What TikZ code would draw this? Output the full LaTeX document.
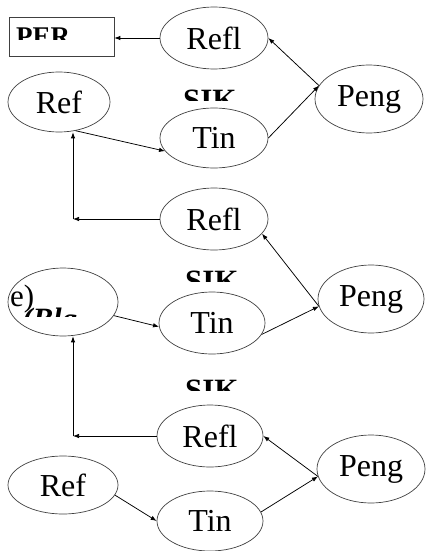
\documentclass[tikz,border=0pt]{standalone}
\usepackage{fontspec}
\setmainfont{Liberation Serif}
\usetikzlibrary{shapes.geometric,arrows.meta}
\begin{document}
\begin{tikzpicture}[x=1pt,y=-1pt,
  ell/.style={ellipse,draw=black!75,line width=0.7pt,inner sep=0pt,font=\fontsize{32}{34}\selectfont},
  arr/.style={-{Latex[length=6pt,width=4.5pt]},line width=0.75pt,black},
  clipt/.style={inner sep=0pt,anchor=base west,font=\fontsize{31}{33}\selectfont\bfseries}]
\useasboundingbox (0,0) rectangle (426,551);
% top group
\node[draw=black!75,line width=0.7pt,minimum width=105pt,minimum height=39pt,inner sep=0pt] (per) at (61.5,36.5) {};
\begin{scope}
\clip (10,18) rectangle (113,40);
\node[clipt,font=\fontsize{27}{29}\selectfont\bfseries] (pert) at (16,46) {PER};
\end{scope}
\node[ell,minimum width=108pt,minimum height=62pt] (refl1) at (214,38) {Refl};
\node[ell,minimum width=108pt,minimum height=68pt] (peng1) at (369,99) {Peng};
\node[ell,minimum width=102pt,minimum height=60pt] (ref1) at (59,102) {Ref};
\begin{scope}
\clip (175,85) rectangle (245,100);
\node[clipt] (sik1) at (183,110) {SIK};
\end{scope}
\node[ell,minimum width=108pt,minimum height=60pt] (tin1) at (214,138) {Tin};
% middle group
\node[ell,minimum width=108pt,minimum height=62pt] (refl2) at (214,219) {Refl};
\coordinate (c1) at (73,219);
\begin{scope}
\clip (175,265) rectangle (245,281);
\node[clipt] (sik2) at (185,291) {SIK};
\end{scope}
\node[ell,minimum width=110pt,minimum height=68pt] (blg) at (63,302) {};
\node[inner sep=0pt,anchor=base west,font=\fontsize{31}{32}\selectfont] (blge) at (10,306) {e)};
\begin{scope}
\clip (15,300) rectangle (100,316);
\node[inner sep=0pt,anchor=base west,font=\fontsize{31}{33}\selectfont\bfseries\itshape] (blgt) at (22,329) {(Blg};
\end{scope}
\node[ell,minimum width=106pt,minimum height=62pt] (tin2) at (212,323) {Tin};
\node[ell,minimum width=106pt,minimum height=68pt] (peng2) at (371,299) {Peng};
% bottom group
\begin{scope}
\clip (175,375) rectangle (245,390);
\node[clipt] (sik3) at (185,400) {SIK};
\end{scope}
\node[ell,minimum width=106pt,minimum height=62pt] (refl3) at (210,436) {Refl};
\coordinate (c2) at (73,436);
\node[ell,minimum width=108pt,minimum height=68pt] (peng3) at (371,469) {Peng};
\node[ell,minimum width=110pt,minimum height=58pt] (ref3) at (63,485) {Ref};
\node[ell,minimum width=106pt,minimum height=60pt] (tin3) at (210,521) {Tin};
% connectors top
\draw[arr] (refl1.west) -- (refl1.west -| per.east);
\draw[arr] (tin1.east) -- (peng1.165);
\draw[arr] (peng1.165) -- (refl1.east);
\draw[arr] (ref1.-60) -- (tin1.195);
\draw[arr] (refl2.west) -- (c1);
\draw[arr] (c1) -- (c1 |- ref1.south);
% connectors middle
\draw[arr] (blg.-15) -- (tin2.184);
\draw[arr] (tin2.-13) -- (peng2.188);
\draw[arr] (peng2.188) -- (refl2.-17);
\draw[arr] (refl3.west) -- (c2);
\draw[arr] (c2) -- (c2 |- blg.south);
% connectors bottom
\draw[arr] (ref3.-11) -- (tin3.west);
\draw[arr] (tin3.10) -- (peng3.188);
\draw[arr] (peng3.188) -- (refl3.east);
\end{tikzpicture}
\end{document}
